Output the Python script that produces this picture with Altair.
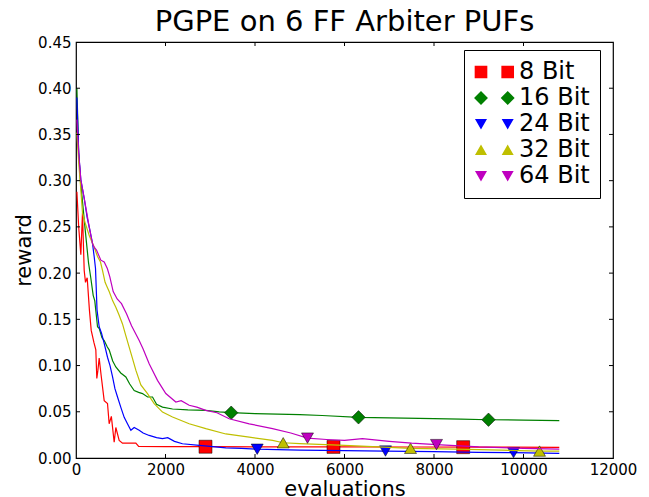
import altair as alt
import pandas as pd

# ---------------- data ----------------
series_names = ["8 Bit", "16 Bit", "24 Bit", "32 Bit", "64 Bit"]
series_colors = ["#FF0000", "#008000", "#0000FF", "#BFBF00", "#BF00BF"]

red_x = [20, 60, 108, 145, 183, 212, 250, 300, 340, 400, 443, 465, 490, 518, 560, 630, 704,
         741, 790, 853, 890, 965, 1039, 1150, 1337, 1400, 2000, 3000, 4500, 6000, 7500, 9000, 10800]
red_y = [0.288, 0.25, 0.22, 0.265, 0.203, 0.19, 0.195, 0.16, 0.138, 0.125, 0.117, 0.086, 0.095,
         0.108, 0.09, 0.062, 0.059, 0.037, 0.045, 0.017, 0.033, 0.019, 0.016, 0.016, 0.016, 0.0125,
         0.0124, 0.0122, 0.0121, 0.012, 0.0119, 0.0117, 0.0116]

green_x = [20, 60, 100, 150, 205, 280, 330, 384, 420, 481, 520, 580, 630, 700, 741, 820, 890, 1000,
           1114, 1200, 1300, 1400, 1486, 1600, 1710, 1800, 1933, 2157, 2500, 2901, 3200, 3468, 4000,
           4500, 5000, 5500, 6313, 7000, 8000, 8600, 9218, 10000, 10800]
green_y = [0.40, 0.33, 0.30, 0.275, 0.247, 0.211, 0.195, 0.176, 0.17, 0.142, 0.14, 0.13, 0.127, 0.12,
           0.117, 0.105, 0.0985, 0.092, 0.0877, 0.08, 0.073, 0.071, 0.0697, 0.066, 0.066, 0.058, 0.055,
           0.053, 0.052, 0.0515, 0.050, 0.049, 0.048, 0.0475, 0.047, 0.046, 0.044, 0.0435, 0.0425,
           0.042, 0.0414, 0.041, 0.0405]

blue_x = [20, 60, 108, 183, 250, 295, 369, 406, 436, 470, 518, 570, 630, 704, 760, 816, 870, 928,
          1000, 1077, 1150, 1226, 1300, 1412, 1500, 1635, 1800, 1933, 2050, 2200, 2380, 2753, 3000,
          3348, 3700, 4049, 4500, 5000, 6000, 6916, 8000, 9000, 9777, 10800]
blue_y = [0.39, 0.33, 0.301, 0.281, 0.26, 0.25, 0.232, 0.218, 0.205, 0.16, 0.142, 0.135, 0.124, 0.109,
          0.1, 0.088, 0.075, 0.066, 0.055, 0.044, 0.037, 0.030, 0.033, 0.030, 0.027, 0.0244, 0.022,
          0.021, 0.022, 0.018, 0.0154, 0.0136, 0.0125, 0.011, 0.0105, 0.0095, 0.009, 0.0085, 0.008,
          0.0075, 0.007, 0.006, 0.0058, 0.005]

yellow_x = [20, 60, 108, 145, 200, 300, 398, 481, 547, 592, 650, 696, 741, 820, 890, 960, 1039, 1110,
            1188, 1260, 1337, 1449, 1598, 1747, 1933, 2157, 2529, 2901, 3348, 3871, 4392, 4630, 5000,
            6000, 7000, 7475, 8500, 9500, 10358, 10800]
yellow_y = [0.352, 0.32, 0.29, 0.265, 0.255, 0.24, 0.229, 0.218, 0.212, 0.203, 0.19, 0.185, 0.18, 0.17,
            0.163, 0.155, 0.145, 0.133, 0.120, 0.108, 0.095, 0.079, 0.0697, 0.0588, 0.0497, 0.0443,
            0.037, 0.0317, 0.026, 0.0226, 0.019, 0.0165, 0.0155, 0.0136, 0.0115, 0.0105, 0.0095,
            0.0085, 0.0075, 0.0075]

magenta_x = [20, 60, 108, 183, 295, 369, 406, 458, 555, 630, 700, 756, 831, 920, 1017, 1129, 1241,
             1412, 1500, 1635, 1821, 2007, 2231, 2350, 2529, 2700, 2901, 3150, 3423, 3871, 4392, 4800,
             5173, 5600, 6000, 6400, 7000, 7500, 8056, 9000, 10000, 10800]
magenta_y = [0.366, 0.33, 0.301, 0.281, 0.25, 0.232, 0.228, 0.225, 0.214, 0.212, 0.205, 0.196, 0.18,
             0.172, 0.167, 0.156, 0.143, 0.127, 0.118, 0.102, 0.084, 0.0697, 0.0606, 0.062, 0.057,
             0.055, 0.0515, 0.049, 0.0425, 0.037, 0.0317, 0.027, 0.0215, 0.020, 0.019, 0.021, 0.018,
             0.016, 0.0145, 0.012, 0.0105, 0.0095]

# markers (every ~2880 evaluations, as in the reference)
red_mx, red_my = [2894, 5754, 8652], [0.0122, 0.012, 0.0117]
green_mx, green_my = [3468, 6313, 9218], [0.049, 0.044, 0.0414]
blue_mx, blue_my = [4049, 6916, 9777], [0.0095, 0.0075, 0.0058]
yellow_mx, yellow_my = [4630, 7475, 10358], [0.0165, 0.0105, 0.0075]
magenta_mx, magenta_my = [5173, 8056], [0.0215, 0.0145]

x_ticks = [0, 2000, 4000, 6000, 8000, 10000, 12000]
y_ticks = [0.0, 0.05, 0.10, 0.15, 0.20, 0.25, 0.30, 0.35, 0.40, 0.45]

lines = [(red_x, red_y), (green_x, green_y), (blue_x, blue_y), (yellow_x, yellow_y), (magenta_x, magenta_y)]
marks = [(red_mx, red_my), (green_mx, green_my), (blue_mx, blue_my), (yellow_mx, yellow_my),
         (magenta_mx, magenta_my)]
plot_shapes = ["square", "diamond", "triangle-down", "triangle-up", "triangle-down"]
plot_sizes = [169, 180, 144, 144, 144]

# legend symbols: two markers side by side (unit coords, 1 unit = ~6.3 px)
legend_paths = [
    "M-1,-1H1V1H-1Z M3.22,-1H5.22V1H3.22Z",
    "M0,-1.1L1.1,0L0,1.1L-1.1,0Z M4.22,-1.1L5.32,0L4.22,1.1L3.12,0Z",
    "M-0.95,-0.8L0.95,-0.8L0,0.85Z M3.27,-0.8L5.17,-0.8L4.22,0.85Z",
    "M-0.95,0.8L0.95,0.8L0,-0.85Z M3.27,0.8L5.17,0.8L4.22,-0.85Z",
    "M-0.95,-0.8L0.95,-0.8L0,0.85Z M3.27,-0.8L5.17,-0.8L4.22,0.85Z",
]

W, H = 537, 416
FONT = "DejaVu Sans"

x_axis = alt.Axis(values=x_ticks, format="d", labelFontSize=15, labelPadding=4, ticks=False,
                  domain=False, grid=False, titleFontSize=21, titleFontWeight="normal",
                  titlePadding=1, labelColor="black", titleColor="black", labelFont=FONT,
                  titleFont=FONT, labelFlush=False)
y_axis = alt.Axis(values=y_ticks, format=".2f", labelFontSize=15, labelPadding=5, ticks=False,
                  domain=False, grid=False, titleFontSize=21, titleFontWeight="normal",
                  titlePadding=3, labelColor="black", titleColor="black", labelFont=FONT,
                  titleFont=FONT, labelFlush=False)


def X(field):
    return alt.X(field, type="quantitative", title="evaluations", axis=x_axis,
                 scale=alt.Scale(domain=[0, 12000], nice=False, zero=False))


def Y(field):
    return alt.Y(field, type="quantitative", title="reward", axis=y_axis,
                 scale=alt.Scale(domain=[0, 0.45], nice=False, zero=False))


layers = []
for name, color, (lx, ly), (mx, my), shp, sz in zip(series_names, series_colors, lines, marks,
                                                     plot_shapes, plot_sizes):
    dl = pd.DataFrame({"x": lx, "y": ly})
    dm = pd.DataFrame({"x": mx, "y": my})
    layers.append(alt.Chart(dl).mark_line(color=color, strokeWidth=1.2, clip=True)
                  .encode(x=X("x"), y=Y("y")))
    layers.append(alt.Chart(dm).mark_point(shape=shp, size=sz, filled=True, fill=color,
                                           stroke="black", strokeWidth=0.5, opacity=1)
                  .encode(x=X("x"), y=Y("y")))

# inward ticks (matplotlib style) on all four sides
dxt = pd.DataFrame({"v": x_ticks[1:-1]})
dyt = pd.DataFrame({"v": y_ticks[1:-1]})
layers.append(alt.Chart(dxt).mark_rule(color="black", strokeWidth=1)
              .encode(x=X("v"), y=alt.value(H), y2=alt.value(H - 4)))
layers.append(alt.Chart(dxt).mark_rule(color="black", strokeWidth=1)
              .encode(x=X("v"), y=alt.value(0), y2=alt.value(4)))
layers.append(alt.Chart(dyt).mark_rule(color="black", strokeWidth=1)
              .encode(y=Y("v"), x=alt.value(0), x2=alt.value(4)))
layers.append(alt.Chart(dyt).mark_rule(color="black", strokeWidth=1)
              .encode(y=Y("v"), x=alt.value(W), x2=alt.value(W - 4)))

# legend layer (no visible marks, only provides the legend)
leg = alt.Legend(title=None, orient="none", legendX=388, legendY=8, labelFontSize=24,
                 labelFont=FONT, labelColor="black", symbolSize=160, symbolStrokeColor="black",
                 symbolStrokeWidth=0.5, symbolOpacity=1, strokeColor="black", fillColor="white",
                 padding=10, rowPadding=2, labelOffset=26, symbolOffset=-5)
dleg = pd.DataFrame({"series": series_names})
layers.append(alt.Chart(dleg).mark_point(filled=True, opacity=1).encode(
    shape=alt.Shape("series:N", scale=alt.Scale(domain=series_names, range=legend_paths), legend=leg),
    fill=alt.Fill("series:N", scale=alt.Scale(domain=series_names, range=series_colors), legend=leg),
).transform_filter("false"))

chart = alt.layer(*layers).properties(
    width=W, height=H,
    padding={"left": 76, "top": 42, "right": 649 - 76 - W, "bottom": 497 - 42 - H},
    autosize=alt.AutoSizeParams(type="none"),
    background="white",
    title=alt.TitleParams("PGPE on 6 FF Arbiter PUFs", fontSize=29, fontWeight="normal",
                          font=FONT, offset=-2, anchor="middle", color="black"),
).configure_view(stroke="black", strokeWidth=1.2)

chart.save("out.html", embed_options={"renderer": "svg", "actions": False})
